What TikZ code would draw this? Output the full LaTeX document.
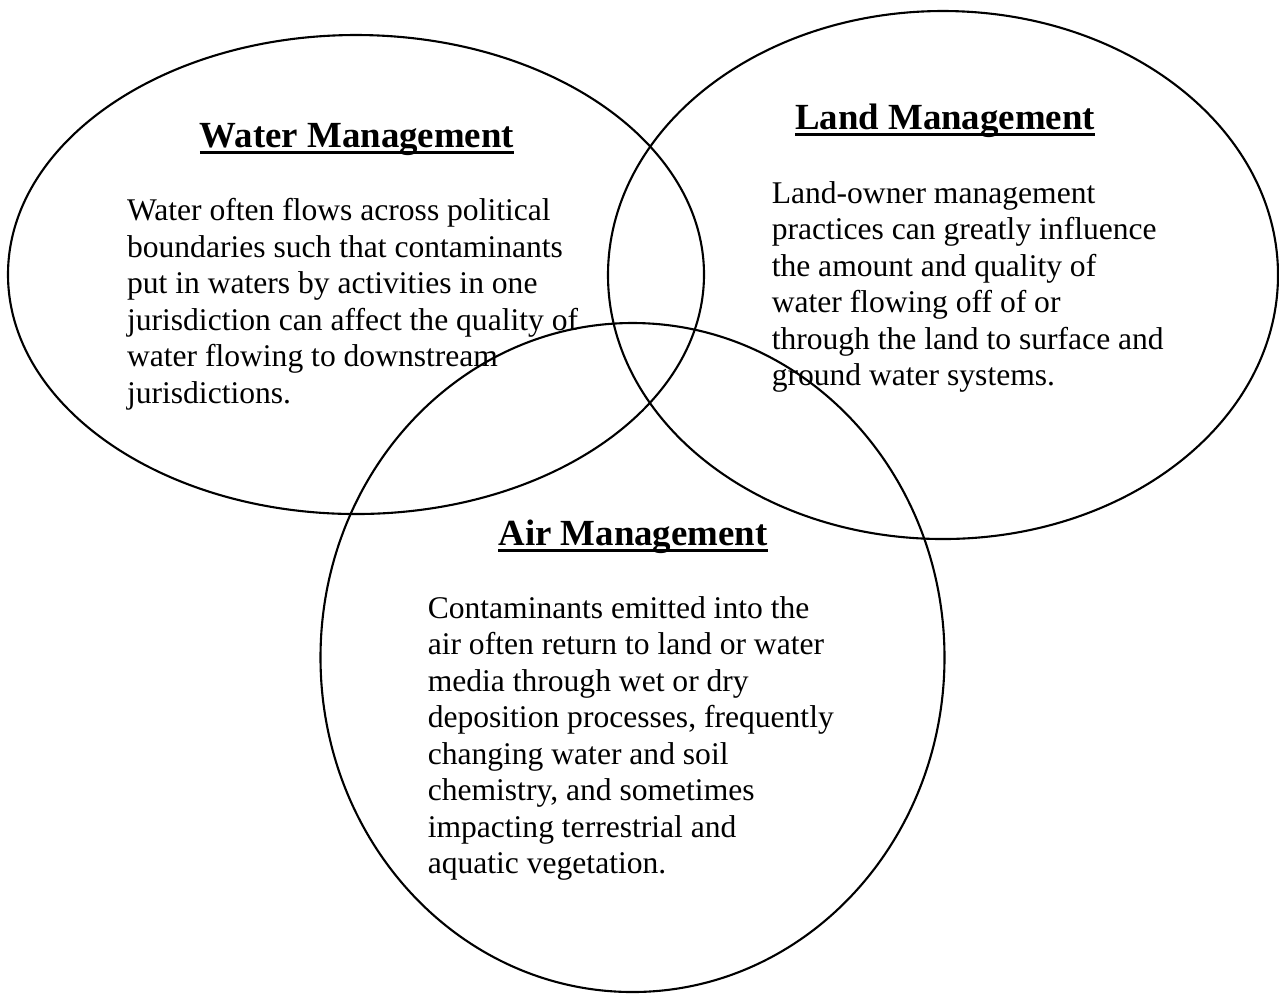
\documentclass[tikz,border=0pt]{standalone}
\usepackage{fontspec}
\setmainfont{Liberation Serif}
\usetikzlibrary{shapes}
\usetikzlibrary{positioning}

\newcommand{\titleul}[1]{\setbox0\hbox{#1}\rlap{\rule[-2.5pt]{\wd0}{1.1pt}}\box0}

\begin{document}
\begin{tikzpicture}[
    x=0.38pt, y=-0.38pt,
    line width=0.8pt
]
\tikzset{
    vennset/.style = {ellipse, draw=black, inner sep=0pt},
    headtext/.style = {anchor=base, inner sep=0pt, font=\fontsize{14}{16}\selectfont\bfseries},
    bodytext/.style = {anchor=base west, inner sep=0pt, font=\fontsize{12}{13.87}\selectfont}
}
\useasboundingbox (0,0) rectangle (1279,993);
% the three sets
\node[vennset, minimum width=696*0.38pt, minimum height=479*0.38pt] at (356,274.5) (water) {};
\node[vennset, minimum width=670*0.38pt, minimum height=528*0.38pt] at (943,275) (land) {};
\node[vennset, minimum width=624*0.38pt, minimum height=669*0.38pt] at (632.5,657.5) (air) {};
% titles
\node[headtext] at (357,147) (watertitle) {\titleul{Water Management}};
\node[headtext] at (945,129.3) (landtitle) {\titleul{Land Management}};
\node[headtext] at (633,545) (airtitle) {\titleul{Air Management}};
% texts
\node[bodytext] at (126,220.7) (waterbody) {\begin{tabular}[t]{@{}l@{}}
Water often flows across political\\
boundaries such that contaminants\\
put in waters by activities in one\\
jurisdiction can affect the quality of\\
water flowing to downstream\\
jurisdictions.\end{tabular}};
\node[bodytext] at (770.7,203.3) (landbody) {\begin{tabular}[t]{@{}l@{}}
Land-owner management\\
practices can greatly influence\\
the amount and quality of\\
water flowing off of or\\
through the land to surface and\\
ground water systems.\end{tabular}};
\node[bodytext] at (426.7,618.3) (airbody) {\begin{tabular}[t]{@{}l@{}}
Contaminants emitted into the\\
air often return to land or water\\
media through wet or dry\\
deposition processes, frequently\\
changing water and soil\\
chemistry, and sometimes\\
impacting terrestrial and\\
aquatic vegetation.\end{tabular}};
\end{tikzpicture}
\end{document}
